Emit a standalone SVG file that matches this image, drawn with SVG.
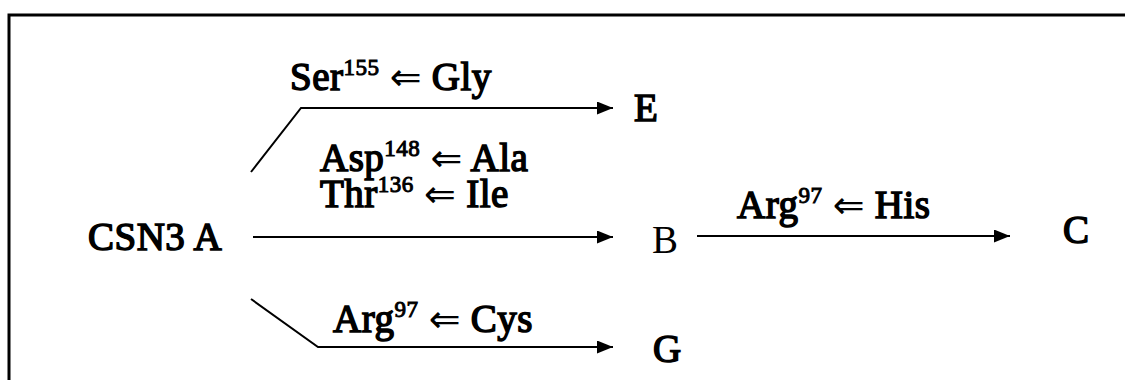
<svg xmlns="http://www.w3.org/2000/svg" width="1125" height="380" viewBox="0 0 1125 380">
<style>
.t{font-family:"Liberation Serif","Times New Roman",serif;font-size:39px;font-weight:400;fill:#000;stroke:#000;stroke-width:1.5px;letter-spacing:0.5px}
.n{stroke:none;letter-spacing:0}
.sup{font-size:23px;stroke-width:1px}
.ar{font-family:"DejaVu Sans",sans-serif;font-size:38px;stroke:none;letter-spacing:0}
.ln{stroke:#000;stroke-width:2;fill:none}
</style>
<defs>
<marker id="ah" viewBox="0 0 10 10" refX="10" refY="5" markerWidth="16" markerHeight="13" markerUnits="userSpaceOnUse" orient="auto" preserveAspectRatio="none">
<path d="M0,0 L10,5 L0,10 Z" fill="#000"/>
</marker>
</defs>
<rect width="1125" height="380" fill="#fff"/>
<path d="M9,380 V15 H1125" stroke="#000" stroke-width="3" fill="none"/>
<g id="connectors">
<polyline class="ln" points="251,172 301,108 613,108" marker-end="url(#ah)"/>
<line class="ln" x1="253" y1="237" x2="613" y2="237" marker-end="url(#ah)"/>
<polyline class="ln" points="251,299 318,347 613,347" marker-end="url(#ah)"/>
<line class="ln" x1="697" y1="236" x2="1010" y2="236" stroke-width="2.5" marker-end="url(#ah)"/>
</g>
<g id="label-ser"><text class="t" x="290" y="90">Ser<tspan class="sup" dy="-15">155</tspan><tspan dy="15"> </tspan><tspan class="ar">⇐</tspan> Gly</text></g>
<g id="label-asp"><text class="t" x="320" y="171">Asp<tspan class="sup" dy="-15">148</tspan><tspan dy="15"> </tspan><tspan class="ar">⇐</tspan> Ala</text></g>
<g id="label-thr"><text class="t" x="320" y="207">Thr<tspan class="sup" dy="-15">136</tspan><tspan dy="15"> </tspan><tspan class="ar">⇐</tspan> Ile</text></g>
<g id="label-his"><text class="t" x="737" y="218">Arg<tspan class="sup" dy="-15">97</tspan><tspan dy="15"> </tspan><tspan class="ar">⇐</tspan> His</text></g>
<g id="label-cys"><text class="t" x="333" y="332">Arg<tspan class="sup" dy="-15">97</tspan><tspan dy="15"> </tspan><tspan class="ar">⇐</tspan> Cys</text></g>
<g id="node-A"><text class="t" x="88" y="250">CSN3 A</text></g>
<g id="node-E"><text class="t" x="634" y="121">E</text></g>
<g id="node-B"><text class="t n" x="652" y="253">B</text></g>
<g id="node-C"><text class="t" x="1063" y="243">C</text></g>
<g id="node-G"><text class="t" x="653" y="362">G</text></g>
</svg>
